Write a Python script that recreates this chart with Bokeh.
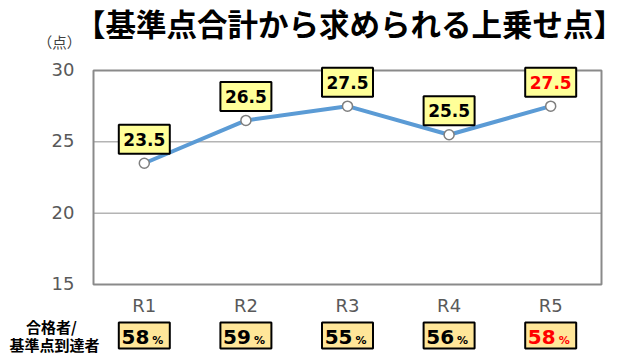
from bokeh.plotting import figure
from bokeh.models import ColumnDataSource, Range1d
from bokeh.core.properties import value
from bokeh.embed import file_html
from bokeh.resources import INLINE

# ---- data ----
categories = ["R1", "R2", "R3", "R4", "R5"]
scores = [23.5, 26.5, 27.5, 25.5, 27.5]
pass_rates = [58, 59, 55, 56, 58]
y_ticks = [15, 20, 25, 30]
highlight = [False, False, False, False, True]
title_text = "【基準点合計から求められる上乗せ点】"
unit_text = "（点）"
row_label_1 = "合格者/"
row_label_2 = "基準点到達者"

# ---- layout (pixels) ----
W, H = 640, 360
FX0, FX1, FY0, FY1 = 93, 601, 70, 284      # plot-area box
n = len(categories)
ymin, ymax = min(y_ticks), max(y_ticks)
bin_px = (FX1 - FX0) / n
ppu = (FY1 - FY0) / (ymax - ymin)


def px2x(px):
    return -0.5 + (px - FX0) / bin_px


def py2y(py):
    return ymax - (py - FY0) / ppu


xs = list(range(n))
colors = ["#FF0000" if h else "#000000" for h in highlight]
JP = value("Noto Sans CJK JP")
DJ = value("DejaVu Sans")

src = ColumnDataSource(dict(
    x=xs, y=scores, cat=categories,
    lbl=[f"{v:.1f}" for v in scores],
    lbl_y=[v + 24 / ppu for v in scores],
    pct=[str(v) for v in pass_rates],
    col=colors,
))

p = figure(width=W, height=H, x_range=Range1d(px2x(0), px2x(W)),
           y_range=Range1d(py2y(H), py2y(0)), x_axis_type=None, y_axis_type=None,
           output_backend="svg", toolbar_location=None, min_border=0)
p.outline_line_color = None
p.background_fill_color = "white"
p.border_fill_color = "white"

# gridlines
inner = y_ticks[1:-1]
p.segment(x0=[-0.5] * len(inner), x1=[n - 0.5] * len(inner), y0=inner, y1=inner,
          line_color="#b4b4b4", line_width=1.5)
# plot-area frame
p.rect(x=(n - 1) / 2, y=(ymin + ymax) / 2, width=n, height=ymax - ymin,
       fill_color=None, line_color="#8a8a8a", line_width=2)

# y tick labels
p.text(x=[-0.5] * len(y_ticks), y=y_ticks, text=[str(t) for t in y_ticks],
       x_offset=-19, y_offset=-1, text_align="right", text_baseline="middle",
       text_font=DJ, text_font_size="18px", text_color="#595959")
# category labels
p.text(x=xs, y=[py2y(305)] * n, text=categories, text_align="center",
       text_baseline="middle", text_font=DJ, text_font_size="18px", text_color="#595959")

# line and markers
p.line("x", "y", source=src, line_color="#5B9BD5", line_width=4)
p.scatter("x", "y", source=src, size=10, fill_color="white",
          line_color="#7f7f7f", line_width=1.5)

# value labels
p.rect("x", "lbl_y", source=src, width=51, height=29, width_units="screen",
       height_units="screen", fill_color="#FFFF99", line_color="black", line_width=2)
p.text("x", "lbl_y", text="lbl", source=src, text_align="center", text_baseline="middle",
       text_font=DJ, text_font_style="bold", text_font_size="17px", text_color="col")

# pass-rate row
p.rect(x=xs, y=[py2y(335)] * n, width=51, height=26, width_units="screen",
       height_units="screen", fill_color="#FFE699", line_color="black", line_width=2)
p.text("x", py2y(336.5), text="pct", source=src, x_offset=5, text_align="right",
       text_baseline="middle", text_font=DJ, text_font_style="bold",
       text_font_size="20px", text_color="col")
p.text(x=xs, y=[py2y(340)] * n, text=["%"] * n, x_offset=8, text_align="left",
       text_baseline="middle", text_font=DJ, text_font_style="bold",
       text_font_size="11px", text_color=colors)

# titles / side texts
p.text(x=[px2x(349)], y=[py2y(22)], text=[title_text], text_align="center",
       text_baseline="middle", text_font=JP, text_font_style="bold",
       text_font_size="30.5px", text_color="black")
p.text(x=[px2x(59)], y=[py2y(41)], text=[unit_text], text_align="center",
       text_baseline="middle", text_font=JP, text_font_size="14.5px", text_color="#404040")
p.text(x=[px2x(51)], y=[py2y(326)], text=[row_label_1], text_align="center",
       text_baseline="middle", text_font=JP, text_font_style="bold",
       text_font_size="15px", text_color="black")
p.text(x=[px2x(54)], y=[py2y(344)], text=[row_label_2], text_align="center",
       text_baseline="middle", text_font=JP, text_font_style="bold",
       text_font_size="15px", text_color="black")

open("out.html", "w").write(file_html(p, INLINE))
